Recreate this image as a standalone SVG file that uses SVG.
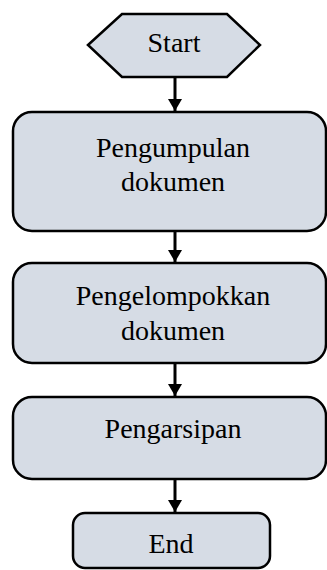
<svg xmlns="http://www.w3.org/2000/svg" width="327" height="570" viewBox="0 0 327 570">
<style>
.n{fill:#D6DCE5;stroke:#000;stroke-width:2.5}
.t{font-family:"Liberation Serif","Times New Roman",serif;font-size:28px;fill:#000;text-anchor:middle}
.c{stroke:#000;stroke-width:3;fill:none}
</style>
<defs>
<marker id="ah" viewBox="0 0 12 14" refX="12" refY="7" markerWidth="12" markerHeight="14" markerUnits="userSpaceOnUse" orient="auto">
<path d="M0,0 L12,7 L0,14 Z" fill="#000"/>
</marker>
</defs>
<rect width="327" height="570" fill="#fff"/>
<g id="connectors">
<line class="c" x1="175" y1="77" x2="175" y2="111" marker-end="url(#ah)"/>
<line class="c" x1="175" y1="231" x2="175" y2="262" marker-end="url(#ah)"/>
<line class="c" x1="175" y1="363" x2="175" y2="396" marker-end="url(#ah)"/>
<line class="c" x1="175" y1="479" x2="175" y2="512" marker-end="url(#ah)"/>
</g>
<g id="start">
<polygon class="n" points="88,45 122,14 227,14 260,45 227,77 122,77"/>
<text class="t" x="174" y="52">Start</text>
</g>
<g id="pengumpulan">
<rect class="n" x="13" y="112" width="313" height="119" rx="19"/>
<text class="t" x="173" y="157">Pengumpulan</text>
<text class="t" x="173" y="191">dokumen</text>
</g>
<g id="pengelompokkan">
<rect class="n" x="13" y="263" width="313" height="100" rx="19"/>
<text class="t" x="173" y="305">Pengelompokkan</text>
<text class="t" x="173" y="340">dokumen</text>
</g>
<g id="pengarsipan">
<rect class="n" x="13" y="397" width="313" height="82" rx="19"/>
<text class="t" x="173" y="438">Pengarsipan</text>
</g>
<g id="end">
<rect class="n" x="73" y="513" width="197" height="55" rx="12"/>
<text class="t" x="171" y="553">End</text>
</g>
</svg>
